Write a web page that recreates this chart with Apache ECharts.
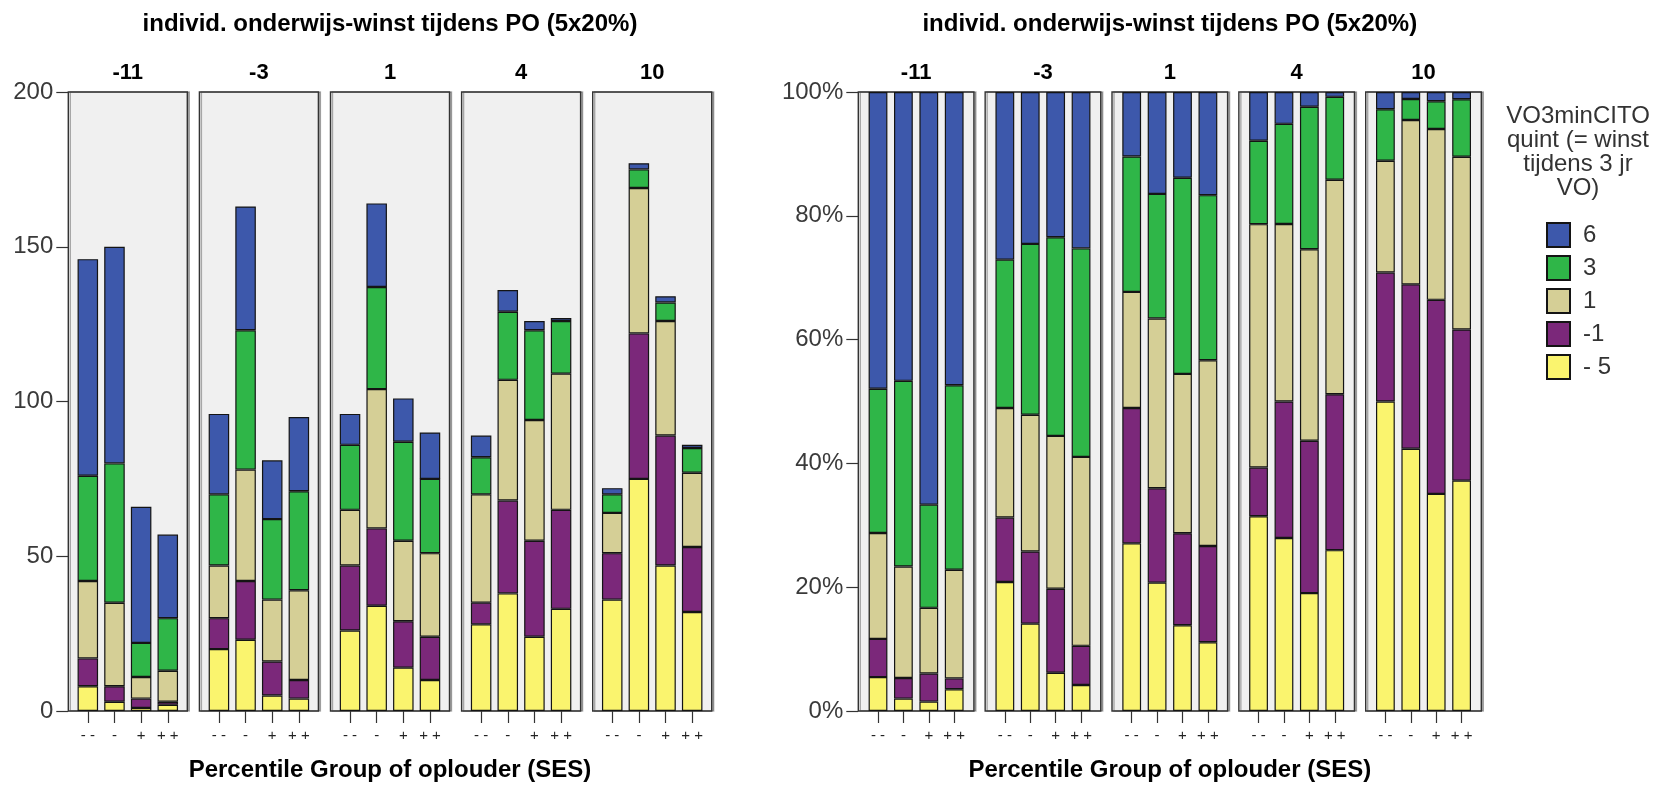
<!DOCTYPE html>
<html><head><meta charset="utf-8">
<script src="https://cdn.jsdelivr.net/npm/echarts@6/dist/echarts.min.js"></script>
<style>html,body{margin:0;padding:0;background:#fff}#c{width:1659px;height:785px}</style>
</head><body><div id="c"></div>
<script>
// ---- data ----
const facets = ['-11', '-3', '1', '4', '10'];
const sesGroups = ['- -', '-', '+', '+ +'];
const seriesNames = ['- 5', '-1', '1', '3', '6'];      // stacked bottom -> top
const legendOrder = ['6', '3', '1', '-1', '- 5'];
const countTicks = [0, 50, 100, 150, 200];
const pctTicks = [0, 20, 40, 60, 80, 100];
// counts: rows = facet (-11,-3,1,4,10), cols = SES group (- -, -, +, + +)
const cntMin5 = [[8, 3, 1, 2], [20, 23, 5, 4], [26, 34, 14, 10], [28, 38, 24, 33], [36, 75, 47, 32]];
const cntMin1 = [[9, 5, 3, 1], [10, 19, 11, 6], [21, 25, 15, 14], [7, 30, 31, 32], [15, 47, 42, 21]];
const cnt1 = [[25, 27, 7, 10], [17, 36, 20, 29], [18, 45, 26, 27], [35, 39, 39, 44], [13, 47, 37, 24]];
const cnt3 = [[34, 45, 11, 17], [23, 45, 26, 32], [21, 33, 32, 24], [12, 22, 29, 17], [6, 6, 6, 8]];
const cnt6 = [[70, 70, 44, 27], [26, 40, 19, 24], [10, 27, 14, 15], [7, 7, 3, 1], [2, 2, 2, 1]];

const titleText = 'individ. onderwijs-winst tijdens PO (5x20%)';
const xTitleText = 'Percentile Group of oplouder (SES)';
const legendTitle = 'VO3minCITO\nquint (= winst\ntijdens 3 jr\nVO)';

// ---- styling / layout ----
const colorMap = {'- 5': '#faf46e', '-1': '#7b287a', '1': '#d5cf96', '3': '#2fb648', '6': '#3d58ab'};
const seriesData = {'- 5': cntMin5, '-1': cntMin1, '1': cnt1, '3': cnt3, '6': cnt6};
const FONT = '"Liberation Sans", Arial, sans-serif';
const PLOT_TOP = 92, PLOT_H = 619;
const panels = [
  {left0: 68.3, step: 131.1, boxW: 119, inset: 6.2, barW: '77%', ticks: countTicks, pct: false},
  {left0: 858.3, step: 126.85, boxW: 115.6, inset: 7, barW: '74%', ticks: pctTicks, pct: true}
];

const totals = facets.map((_, f) => sesGroups.map((_, i) =>
  seriesNames.reduce((s, n) => s + seriesData[n][f][i], 0)));

const grid = [], xAxis = [], yAxis = [], series = [], graphic = [];
panels.forEach((P, p) => {
  const maxV = P.ticks[P.ticks.length - 1];
  const interval = P.ticks[1] - P.ticks[0];
  facets.forEach((fac, f) => {
    const left = P.left0 + f * P.step;
    const g = grid.length;
    // outer box
    grid.push({left: left, top: PLOT_TOP, width: P.boxW, height: PLOT_H, show: true,
      backgroundColor: '#f0f0f0', borderColor: '#333', borderWidth: 1.4,
      shadowColor: 'rgba(0,0,0,0.3)', shadowOffsetX: 2, shadowBlur: 0});
    xAxis.push({gridIndex: g, type: 'category', data: sesGroups, show: false});
    yAxis.push({gridIndex: g, type: 'value', min: 0, max: maxV, interval: interval, show: f === 0,
      axisLine: {show: false},
      axisTick: {show: true, length: 12, lineStyle: {color: '#333', width: 1.2}},
      splitLine: {show: false},
      axisLabel: {margin: 15, fontSize: 24, color: '#3a3a3a', fontFamily: FONT,
        formatter: v => P.pct ? v + '%' : String(v)}});
    // inner data grid
    const gi = grid.length;
    grid.push({left: left + P.inset, top: PLOT_TOP, width: P.boxW - 2 * P.inset, height: PLOT_H, show: false});
    xAxis.push({gridIndex: gi, type: 'category', data: sesGroups,
      axisLine: {show: false},
      axisTick: {show: true, alignWithLabel: true, length: 12, lineStyle: {color: '#333', width: 1.2}},
      axisLabel: {interval: 0, margin: 17, fontSize: 15, color: '#222', fontFamily: FONT}});
    yAxis.push({gridIndex: gi, type: 'value', min: 0, max: maxV, show: false});
    seriesNames.forEach(n => {
      series.push({
        type: 'bar', name: n, stack: 'p' + p + 'f' + f, xAxisIndex: gi, yAxisIndex: gi,
        barWidth: P.barW,
        data: seriesData[n][f].map((v, i) => P.pct ? v / totals[f][i] * 100 : v),
        itemStyle: {color: colorMap[n], borderColor: '#141414', borderWidth: 1.2},
        emphasis: {disabled: true}
      });
    });
    graphic.push({type: 'text', x: left + P.boxW / 2, y: 73,
      style: {text: fac, font: 'bold 22px ' + FONT, fill: '#000', align: 'center', verticalAlign: 'middle'}});
  });
  const cx = (P.left0 + 4 * P.step + P.boxW + P.left0) / 2;
  graphic.push({type: 'text', x: cx, y: 24,
    style: {text: titleText, font: 'bold 24px ' + FONT, fill: '#000', align: 'center', verticalAlign: 'middle'}});
  graphic.push({type: 'text', x: cx, y: 770,
    style: {text: xTitleText, font: 'bold 24px ' + FONT, fill: '#000', align: 'center', verticalAlign: 'middle'}});
});
graphic.push({type: 'text', x: 1578, y: 104,
  style: {text: legendTitle, font: '24px ' + FONT, lineHeight: 24, fill: '#333', align: 'center', verticalAlign: 'top'}});

const chart = echarts.init(document.getElementById('c'), null, {renderer: 'canvas'});
chart.setOption({
  animation: false,
  grid: grid, xAxis: xAxis, yAxis: yAxis, series: series, graphic: graphic,
  legend: {orient: 'vertical', left: 1546, top: 222, padding: 0, itemWidth: 23, itemHeight: 24, itemGap: 7,
    data: legendOrder, icon: 'rect', selectedMode: false,
    textStyle: {fontSize: 24, lineHeight: 26, color: '#333', fontFamily: FONT, padding: [0, 0, 0, 8]}},
  tooltip: {show: false}
});
</script></body></html>
